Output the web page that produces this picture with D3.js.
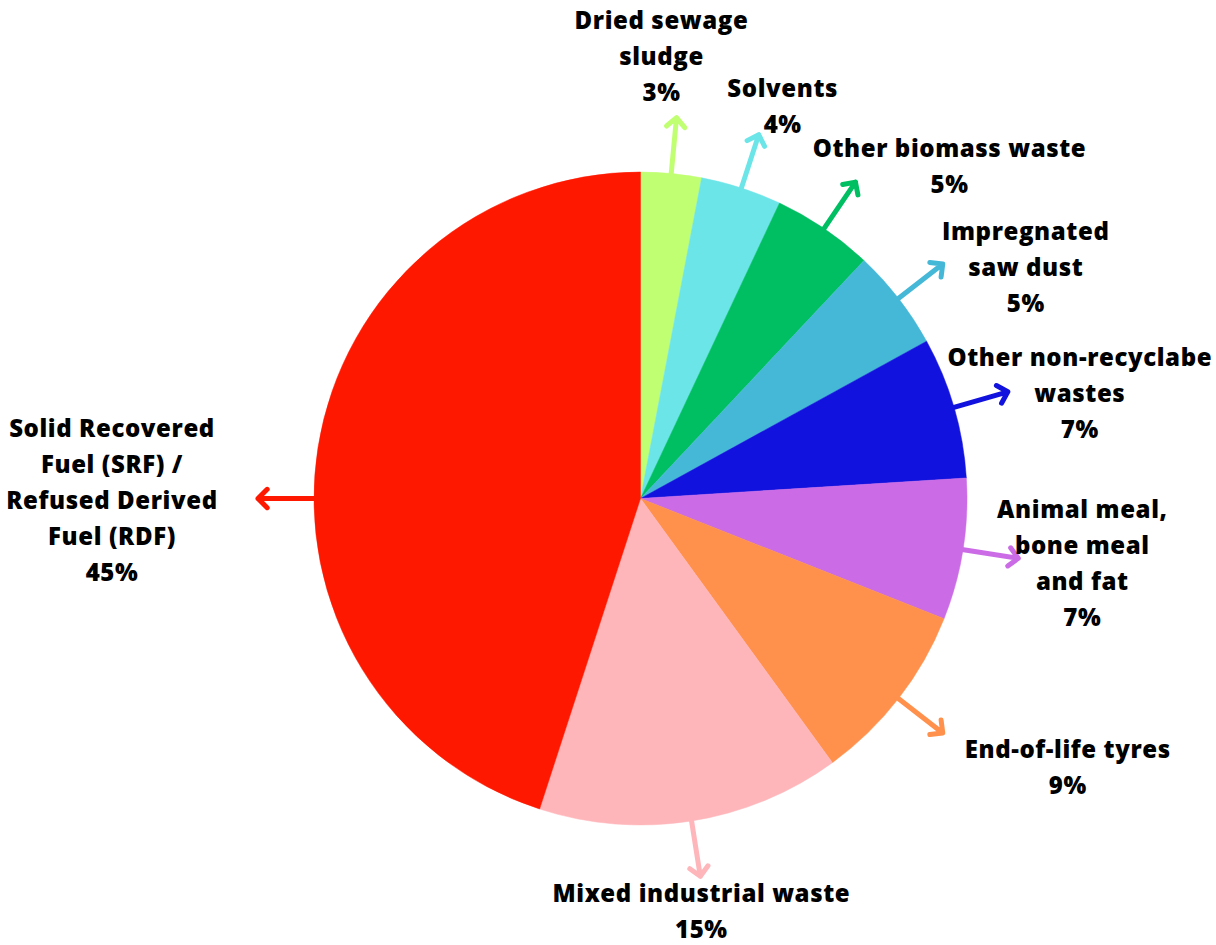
<!DOCTYPE html>
<html lang="en">
<head>
	<meta charset="utf-8">
	<script type="text/javascript" src="https://d3js.org/d3.v7.min.js"></script>
	<style type="text/css">
		body {
			margin: 0;
			background: #fff;
		}
		.label text {
			font-family: "Open Sans", sans-serif;
			font-weight: 800;
			font-size: 24px;
			letter-spacing: 0.6px;
			fill: #000;
			text-anchor: middle;
		}
		.arrow {
			fill: none;
			stroke-width: 5px;
			stroke-linecap: round;
			stroke-linejoin: round;
		}
	</style>
	<title>Alternative fuels</title>
</head>
<body>
	<svg id="pie" width="1216" height="945"></svg>

	<script type="text/javascript">

		// slices, clockwise from 12 o'clock
		var categories = ["Dried sewage sludge", "Solvents", "Other biomass waste", "Impregnated saw dust",
			"Other non-recyclabe wastes", "Animal meal, bone meal and fat", "End-of-life tyres",
			"Mixed industrial waste", "Solid Recovered Fuel (SRF) / Refused Derived Fuel (RDF)"];
		var shares = [3, 4, 5, 5, 7, 7, 9, 15, 45];
		var labelLines = [
			["Dried sewage", "sludge"],
			["Solvents"],
			["Other biomass waste"],
			["Impregnated", "saw dust"],
			["Other non-recyclabe", "wastes"],
			["Animal meal,", "bone meal", "and fat"],
			["End-of-life tyres"],
			["Mixed industrial waste"],
			["Solid Recovered", "Fuel (SRF) /", "Refused Derived", "Fuel (RDF)"]
		];
		var colors = ["#c1ff72", "#6ce5e8", "#00bf63", "#45b8d8", "#1212de", "#cb6ce6", "#ff914d", "#ffb6bb", "#ff1800"];

		// label placement relative to the arrow tip (dx, dy of first baseline), optional arrow angle override
		var labelOffset = [
			{dx: -15, dy: -89},
			{dx: 24, dy: -38},
			{dx: 94, dy: -25},
			{dx: 83, dy: -24},
			{dx: 72, dy: -26},
			{dx: 64, dy: -40},
			{dx: 125, dy: 25},
			{dx: 1, dy: 26},
			{dx: -146, dy: -62, angle: -Math.PI / 2}
		];

		var svg = d3.select("#pie");
		var cx = 640.5, cy = 498.5, radius = 326.5, arrowLen = 56, lineH = 36;

		var g = svg.append("g").attr("transform", "translate(" + cx + "," + cy + ")");

		var data = categories.map(function(c, i) { return {name: c, value: shares[i], i: i}; });

		var pie = d3.pie()
			.sort(null)
			.value(function(d) { return d.value; });

		var arc = d3.arc()
			.innerRadius(0)
			.outerRadius(radius);

		var arcs = pie(data);

		g.selectAll("path.slice")
			.data(arcs)
			.enter().append("path")
			.attr("class", "slice")
			.attr("d", arc)
			.attr("fill", function(d) { return colors[d.data.i]; })
			.attr("stroke", function(d) { return colors[d.data.i]; })
			.attr("stroke-width", 0.5);

		function midAngle(d) {
			var o = labelOffset[d.data.i];
			return o.angle !== undefined ? o.angle : (d.startAngle + d.endAngle) / 2;
		}
		function point(a, r) {
			return [Math.sin(a) * r, -Math.cos(a) * r];
		}

		var label = g.selectAll("g.label")
			.data(arcs)
			.enter().append("g")
			.attr("class", "label");

		// arrow: shaft + chevron head
		label.append("path")
			.attr("class", "arrow")
			.attr("stroke", function(d) { return colors[d.data.i]; })
			.attr("d", function(d) {
				var a = midAngle(d);
				var p0 = point(a, radius - 1), p1 = point(a, radius + arrowLen);
				var head = 13, spread = Math.PI / 4;
				var back = a + Math.PI;
				var h1 = [p1[0] + Math.sin(back - spread) * head, p1[1] - Math.cos(back - spread) * head];
				var h2 = [p1[0] + Math.sin(back + spread) * head, p1[1] - Math.cos(back + spread) * head];
				return "M" + p0 + "L" + p1 + "M" + h1 + "L" + p1 + "L" + h2;
			});

		label.append("text")
			.attr("transform", function(d) {
				var tip = point(midAngle(d), radius + arrowLen);
				var o = labelOffset[d.data.i];
				return "translate(" + (tip[0] + o.dx) + "," + (tip[1] + o.dy) + ")";
			})
			.selectAll("tspan")
			.data(function(d) { return labelLines[d.data.i].concat([d.data.value + "%"]); })
			.enter().append("tspan")
			.attr("x", 0)
			.attr("y", function(d, i) { return i * lineH; })
			.text(function(d) { return d; });

	</script>
</body>
</html>
